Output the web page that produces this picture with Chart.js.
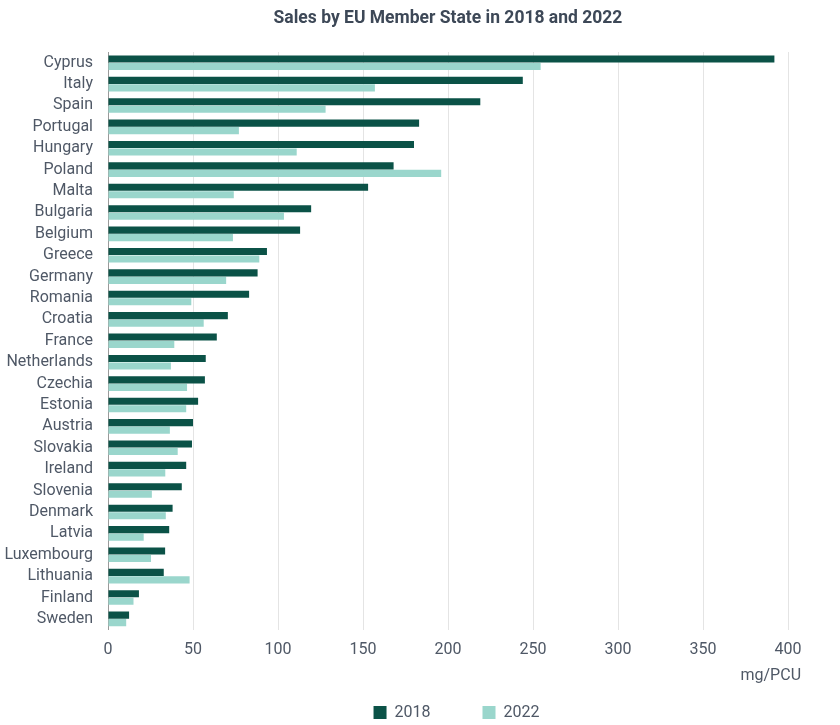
<!DOCTYPE html>
<html>
<head>
<meta charset="utf-8">
<script src="https://cdn.jsdelivr.net/npm/chart.js@4/dist/chart.umd.min.js"></script>
<style>
html,body{margin:0;padding:0;background:#fff;}
#wrap{width:840px;height:725px;position:relative;}
</style>
</head>
<body>
<div id="wrap"><canvas id="c" width="840" height="725"></canvas></div>
<script>
const countries = ["Cyprus","Italy","Spain","Portugal","Hungary","Poland","Malta","Bulgaria","Belgium","Greece","Germany","Romania","Croatia","France","Netherlands","Czechia","Estonia","Austria","Slovakia","Ireland","Slovenia","Denmark","Latvia","Luxembourg","Lithuania","Finland","Sweden"];
const sales2018 = [392,244,219,183,180,168,153,119.5,113,93.5,88,83,70.5,64,57.5,57,53,50,49.4,46,43.4,38,36,33.6,32.8,18.2,12.4];
const sales2022 = [254.5,157,128,77,111,196,74,103.5,73.5,89,69.5,49,56.3,39,37,46.5,46,36.4,41,33.7,25.8,34,21,25.3,48,15,10.7];
const seriesLabels = ["2018","2022"];
const xTicks = [0,50,100,150,200,250,300,350,400];

const textColor = "#4f5866";
Chart.defaults.font.family = "Roboto, 'Noto Sans', sans-serif";

const LEG_PAD_LAYOUT = 13;
const LEG_PAD_DRAW = 52;

// Lay the legend out compactly, then draw it with wider item spacing;
// nudge the unit label so it ends under the last tick label.
const layoutTweaks = {
  id: 'layoutTweaks',
  afterLayout(chart) {
    const lg = chart.legend;
    if (lg) {
      const dx = LEG_PAD_LAYOUT - LEG_PAD_DRAW - 22;
      const dy = -(LEG_PAD_DRAW - LEG_PAD_LAYOUT) + 5.6;
      lg.left += dx;
      lg.top += dy;
      lg.options.labels.padding = LEG_PAD_DRAW;
    }
    const xs = chart.scales.x;
    if (xs) xs.right += 13;
  }
};

new Chart(document.getElementById('c'), {
  type: 'bar',
  data: {
    labels: countries,
    datasets: [
      {label: seriesLabels[0], data: sales2018, backgroundColor: "#0b5247", categoryPercentage: 0.7, barPercentage: 0.95},
      {label: seriesLabels[1], data: sales2022, backgroundColor: "#9ad6cc", categoryPercentage: 0.7, barPercentage: 0.95}
    ]
  },
  plugins: [layoutTweaks],
  options: {
    indexAxis: 'y',
    responsive: false,
    animation: false,
    devicePixelRatio: 1,
    layout: {padding: {left: 0, right: 52, top: 6, bottom: 0}},
    plugins: {
      title: {
        display: true,
        fullSize: false,
        text: "Sales by EU Member State in 2018 and 2022",
        color: "#3d4857",
        font: {size: 17.5, weight: 'bold'},
        padding: {top: 2, bottom: 23}
      },
      legend: {
        position: 'bottom',
        fullSize: false,
        labels: {
          color: textColor,
          font: {size: 16},
          boxWidth: 13,
          boxHeight: 13,
          padding: LEG_PAD_LAYOUT
        }
      },
      tooltip: {enabled: false}
    },
    scales: {
      x: {
        min: 0,
        max: 400,
        afterBuildTicks: (axis) => { axis.ticks = xTicks.map(v => ({value: v})); },
        grid: {color: "#e4e4e4", drawTicks: false},
        border: {display: false},
        ticks: {color: textColor, font: {size: 16}, padding: 11},
        title: {display: true, text: "mg/PCU", align: 'end', color: textColor, font: {size: 16}, padding: {top: -4, bottom: 0}}
      },
      y: {
        afterFit: (axis) => { axis.width = 108; },
        grid: {display: false, drawTicks: false},
        border: {display: true, color: "#9a9a9a"},
        ticks: {color: textColor, font: {size: 16}, padding: 15, autoSkip: false}
      }
    }
  }
});
</script>
</body>
</html>
